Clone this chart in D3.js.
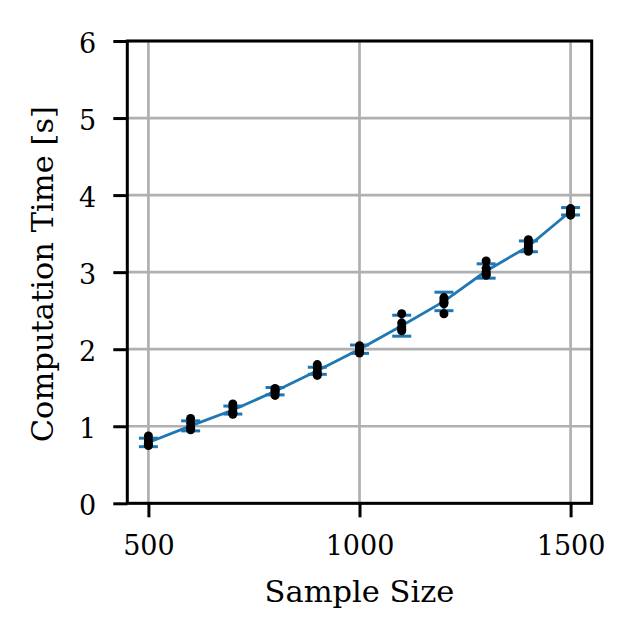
<!DOCTYPE html>
<html>
<head>
<meta charset="utf-8">
<script src="https://cdn.jsdelivr.net/npm/d3@7"></script>
<style>
  html, body { margin: 0; padding: 0; background: #fff; }
  svg { display: block; }
  text { font-family: "DejaVu Serif", serif; fill: #000; }
</style>
</head>
<body>
<svg id="chart" width="635" height="638"></svg>
<script>
// ---- data ----
const sampleSizes = [500, 600, 700, 800, 900, 1000, 1100, 1200, 1300, 1400, 1500];
const meanTimes   = [0.79, 1.005, 1.21, 1.455, 1.72, 2.00, 2.305, 2.62, 3.015, 3.335, 3.79];
const stdTimes    = [0.055, 0.065, 0.052, 0.048, 0.046, 0.054, 0.136, 0.12, 0.093, 0.07, 0.048];
const runTimes = [
  [0.875, 0.82, 0.78, 0.76, 0.75],
  [1.10, 1.04, 0.99, 0.97, 0.955],
  [1.29, 1.24, 1.19, 1.17, 1.155],
  [1.49, 1.47, 1.45, 1.43, 1.40],
  [1.80, 1.76, 1.71, 1.68, 1.66],
  [2.045, 2.02, 2.00, 1.97, 1.95],
  [2.46, 2.34, 2.29, 2.26, 2.24],
  [2.67, 2.64, 2.61, 2.59, 2.46],
  [3.145, 3.05, 3.01, 2.98, 2.96],
  [3.42, 3.38, 3.34, 3.30, 3.27],
  [3.825, 3.80, 3.78, 3.76, 3.74]
];
const xTicks = [500, 1000, 1500];
const yTicks = [0, 1, 2, 3, 4, 5, 6];
const xLabel = "Sample Size";
const yLabel = "Computation Time [s]";

// ---- layout ----
const L = 127.3, R = 591.7, T = 41, B = 503.3;
const svg = d3.select("#chart");
const x = d3.scaleLinear().domain([450, 1550]).range([L, R]);
const y = d3.scaleLinear().domain([0, 6]).range([B, T]);
const blue = "#1f77b4";

// grid
const grid = svg.append("g");
grid.selectAll(".gx").data(xTicks).join("line")
  .attr("x1", d => x(d)).attr("x2", d => x(d)).attr("y1", T).attr("y2", B)
  .attr("stroke", "#b0b0b0").attr("stroke-width", 2.7);
grid.selectAll(".gy").data(yTicks).join("line")
  .attr("x1", L).attr("x2", R).attr("y1", d => y(d)).attr("y2", d => y(d))
  .attr("stroke", "#b0b0b0").attr("stroke-width", 2.7);

// mean line
svg.append("path")
  .datum(sampleSizes.map((s, i) => [s, meanTimes[i]]))
  .attr("fill", "none").attr("stroke", blue).attr("stroke-width", 2.8)
  .attr("d", d3.line().x(d => x(d[0])).y(d => y(d[1])));

// error bars
const eb = svg.append("g").selectAll("g").data(sampleSizes.map((s, i) => ({s, m: meanTimes[i], e: stdTimes[i]})))
  .join("g");
eb.append("line")
  .attr("x1", d => x(d.s)).attr("x2", d => x(d.s))
  .attr("y1", d => y(d.m - d.e)).attr("y2", d => y(d.m + d.e))
  .attr("stroke", blue).attr("stroke-width", 2.8);
[-1, 1].forEach(sg => {
  eb.append("line")
    .attr("x1", d => x(d.s) - 9.5).attr("x2", d => x(d.s) + 9.5)
    .attr("y1", d => y(d.m + sg * d.e)).attr("y2", d => y(d.m + sg * d.e))
    .attr("stroke", blue).attr("stroke-width", 3);
});

// individual runs
const pts = [];
sampleSizes.forEach((s, i) => runTimes[i].forEach(v => pts.push([s, v])));
svg.append("g").selectAll("circle").data(pts).join("circle")
  .attr("cx", d => x(d[0])).attr("cy", d => y(d[1])).attr("r", 4.5)
  .attr("fill", "#000");

// axes
const xAxis = svg.append("g").attr("transform", `translate(0,${B})`)
  .call(d3.axisBottom(x).tickValues(xTicks).tickSize(14).tickPadding(19).tickFormat(d3.format("d")));
const yAxis = svg.append("g").attr("transform", `translate(${L},0)`)
  .call(d3.axisLeft(y).tickValues(yTicks).tickSize(14).tickPadding(17).tickFormat(d3.format("d")));
[xAxis, yAxis].forEach(a => {
  a.select(".domain").remove();
  a.selectAll(".tick line").attr("stroke", "#000").attr("stroke-width", 3);
  a.selectAll(".tick text").attr("font-size", 27).attr("font-family", "DejaVu Serif");
});
yAxis.selectAll(".tick text").attr("dy", "0.42em");

// frame
svg.append("rect").attr("x", L).attr("y", T).attr("width", R - L).attr("height", B - T)
  .attr("fill", "none").attr("stroke", "#000").attr("stroke-width", 3);

// labels
svg.append("text").attr("x", (L + R) / 2).attr("y", 601.5)
  .attr("text-anchor", "middle").attr("font-size", 30.5).text(xLabel);
svg.append("text").attr("transform", `translate(53,${(T + B) / 2 + 2}) rotate(-90)`)
  .attr("text-anchor", "middle").attr("font-size", 30.5).text(yLabel);
</script>
</body>
</html>
